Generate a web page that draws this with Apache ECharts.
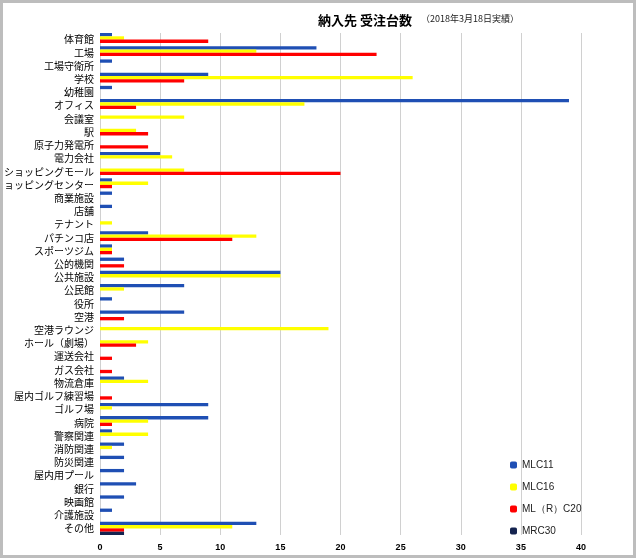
<!DOCTYPE html>
<html><head><meta charset="utf-8">
<script src="https://cdn.jsdelivr.net/npm/echarts@6/dist/echarts.min.js"></script>
<style>html,body{margin:0;padding:0;background:#bdbdbd;}#c{position:absolute;left:3px;top:3px;width:630px;height:552px;background:#fff;}</style>
</head><body><div id="c"></div>
<script>
const categories=['体育館','工場','工場守衛所','学校','幼稚園','オフィス','会議室','駅','原子力発電所','電力会社','ショッピングモール','ショッピングセンター','商業施設','店舗','テナント','パチンコ店','スポーツジム','公的機関','公共施設','公民館','役所','空港','空港ラウンジ','ホール（劇場）','運送会社','ガス会社','物流倉庫','屋内ゴルフ練習場','ゴルフ場','病院','警察関連','消防関連','防災関連','屋内用プール','銀行','映画館','介護施設','その他'];
const mlc11=[1,18,1,9,1,39,0,0,0,5,0,1,1,1,0,4,1,2,15,7,1,7,0,0,0,0,2,0,9,9,1,2,2,2,3,2,1,13];
const mlc16=[2,13,0,26,0,17,7,3,0,6,7,4,0,0,1,13,1,0,15,2,0,0,19,4,0,0,4,0,1,4,4,1,0,0,0,0,0,11];
const mlrc20=[9,23,0,7,0,3,0,4,4,0,20,1,0,0,0,11,1,2,0,0,0,2,0,3,1,1,0,1,0,1,0,0,0,0,0,0,0,2];
const mrc30=[0,0,0,0,0,0,0,0,0,0,0,0,0,0,0,0,0,0,0,0,0,0,0,0,0,0,0,0,0,0,0,0,0,0,0,0,0,2];
const names=['MLC11','MLC16','ML（R）C20','MRC30'];
const colors=['#1f4fb4','#ffff00','#ff0000','#14234f'];
const chart=echarts.init(document.getElementById('c'));
const data=[mlc11,mlc16,mlrc20,mrc30];
chart.setOption({
 animation:false,
 title:{text:'納入先 受注台数',left:310,top:6,textStyle:{fontSize:13,fontWeight:'bold',color:'#000',fontFamily:'Noto Sans CJK JP'}},
 graphic:[{type:'text',left:418,top:11,style:{text:'（2018年3月18日実績）',fontSize:9,fill:'#222',fontFamily:'Noto Sans CJK JP'}}],
 legend:{orient:'vertical',left:502,top:452,itemWidth:7,itemHeight:7,itemGap:12,textStyle:{fontSize:10,color:'#222'},data:names},
 grid:{left:97,right:52,top:30,bottom:20,outerBoundsMode:'none',containLabel:false},
 xAxis:{type:'value',min:0,max:40,interval:5,axisLabel:{fontSize:9,color:'#000',fontWeight:'bold'},splitLine:{lineStyle:{color:'#d0d0d0'}},axisLine:{show:false}},
 yAxis:{type:'category',inverse:true,data:categories,axisTick:{show:false},axisLine:{show:false},axisLabel:{fontSize:10,color:'#000',margin:6,interval:0,fontFamily:'Noto Sans CJK JP'}},
 series:data.map((d,i)=>({name:names[i],type:'bar',data:d,barWidth:3.3,barGap:'0%',itemStyle:{color:colors[i]}}))
});
</script></body></html>
